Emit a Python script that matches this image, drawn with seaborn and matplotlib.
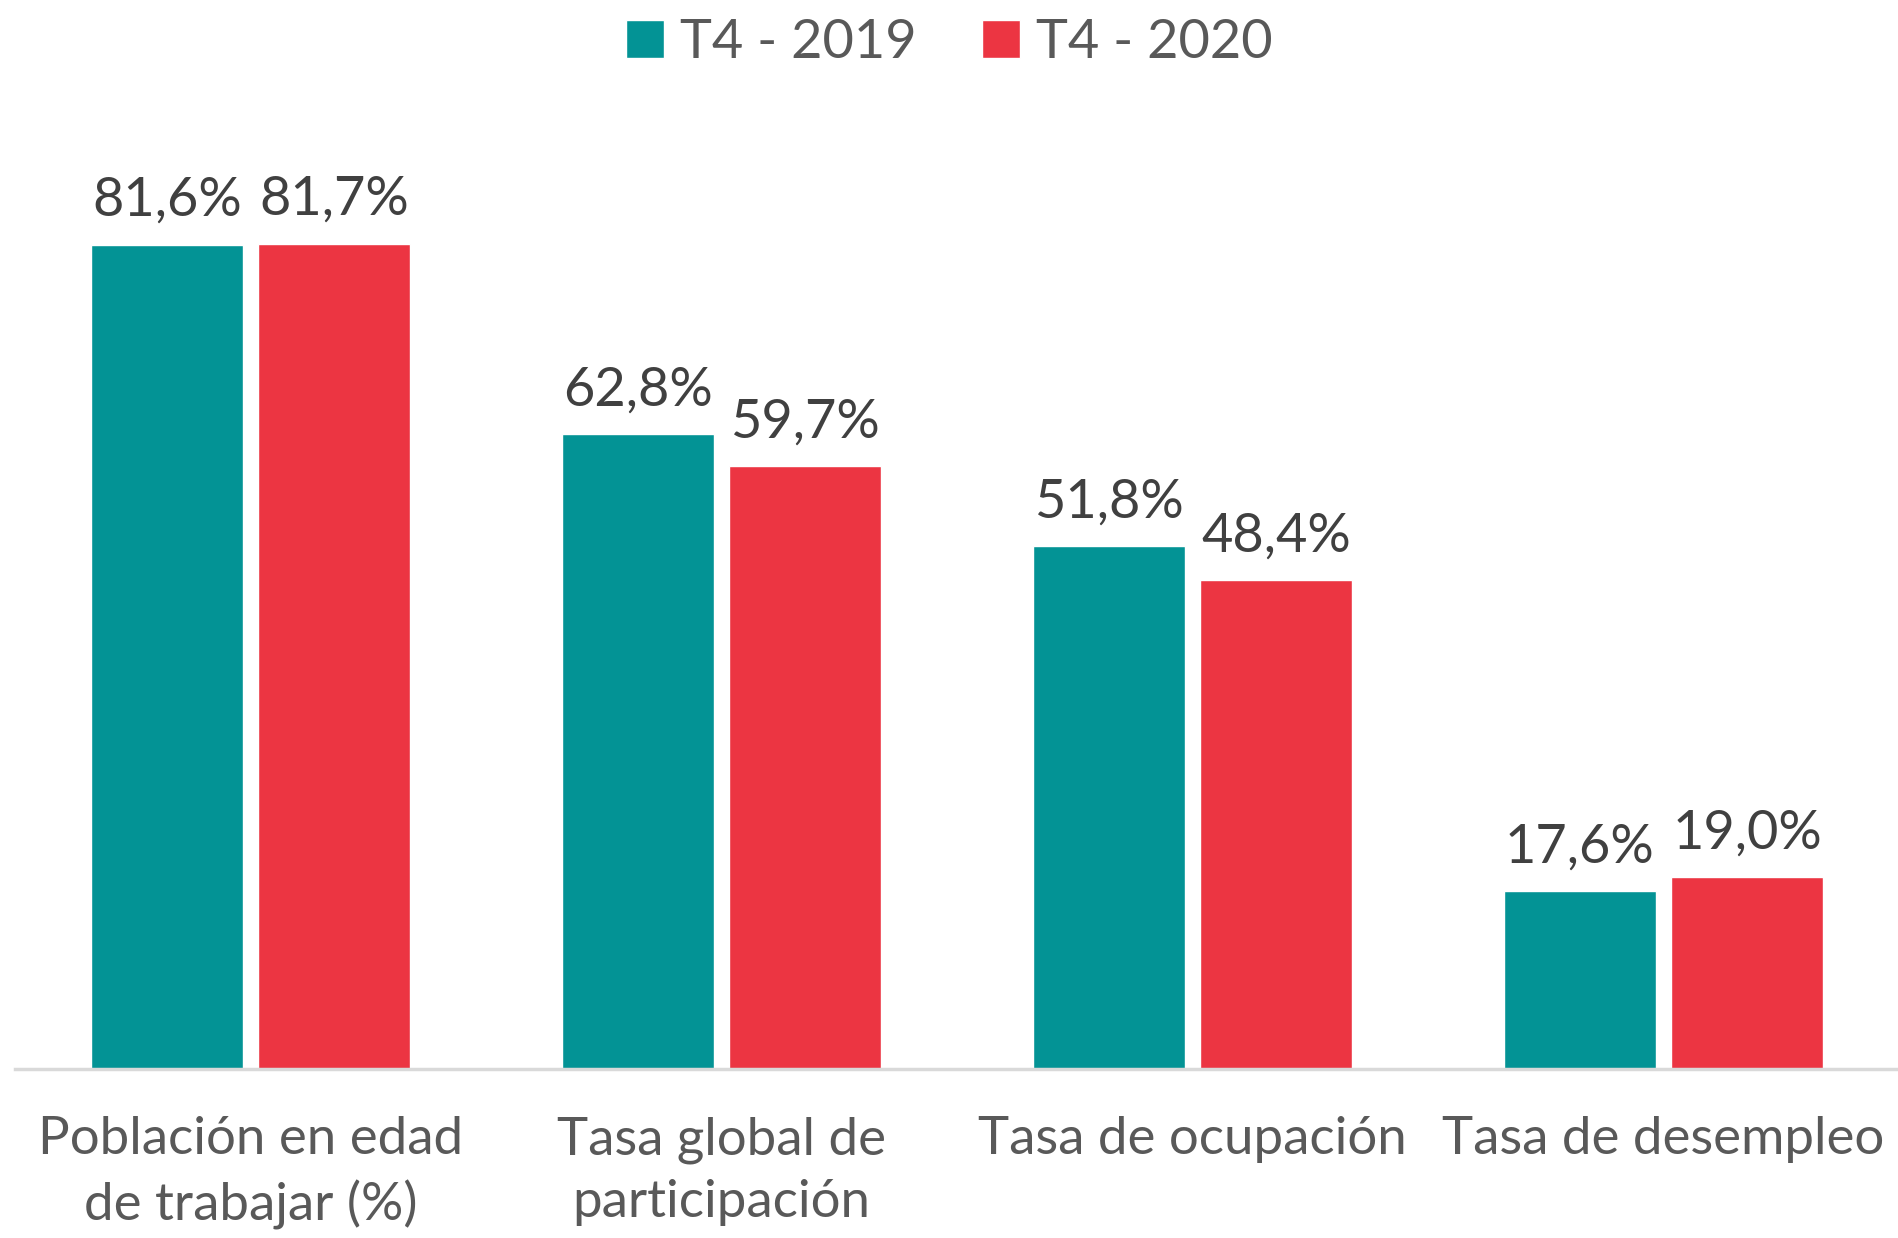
import matplotlib.pyplot as plt
import seaborn as sns
import pandas as pd

# Indicadores del mercado laboral
categorias = ['Población en edad\nde trabajar (%)', 'Tasa global de\nparticipación',
              'Tasa de ocupación', 'Tasa de desempleo']
t4_2019 = [81.6, 62.8, 51.8, 17.6]
t4_2020 = [81.7, 59.7, 48.4, 19.0]
series = ['T4 - 2019', 'T4 - 2020']
colores = ['#039395', '#EC3542']

df = pd.DataFrame({
    'categoria': categorias * 2,
    'valor': t4_2019 + t4_2020,
    'periodo': [series[0]] * 4 + [series[1]] * 4,
})

sns.set_style('white')
plt.rcParams['font.family'] = ['Lato', 'DejaVu Sans']

fig = plt.figure(figsize=(18.99, 12.38), dpi=100)
ax = fig.add_axes([0.0079, 0.1365, 0.9921, 0.8635])

sns.barplot(data=df, x='categoria', y='valor', hue='periodo', palette=colores,
            width=0.71, gap=0.094, saturation=1, ax=ax, legend=True)

for cont in ax.containers:
    ax.bar_label(cont, labels=[f'{v:.1f}%'.replace('.', ',') for v in cont.datavalues],
                 padding=14, fontsize=39, color='#404040')

ax.set_xlim(-0.5, 3.5)
ax.set_ylim(0, 105.8)
ax.set_xlabel('')
ax.set_ylabel('')
ax.set_yticks([])
ax.tick_params(axis='x', length=0, pad=34, labelsize=38, labelcolor='#595959')
for lbl in ax.get_xticklabels():
    lbl.set_linespacing(1.4)
for s in ['top', 'right', 'left']:
    ax.spines[s].set_visible(False)
ax.spines['bottom'].set_color('#D9D9D9')
ax.spines['bottom'].set_linewidth(2.5)

handles, labels = ax.get_legend_handles_labels()
ax.get_legend().remove()
fig.legend(handles, labels, loc='upper center', bbox_to_anchor=(0.5, 1.025), ncol=2,
           frameon=False, fontsize=39, labelcolor='#595959', handlelength=0.7,
           handleheight=0.7, handletextpad=0.3, columnspacing=1.2)

plt.savefig('out.png', dpi=100)
plt.close()
